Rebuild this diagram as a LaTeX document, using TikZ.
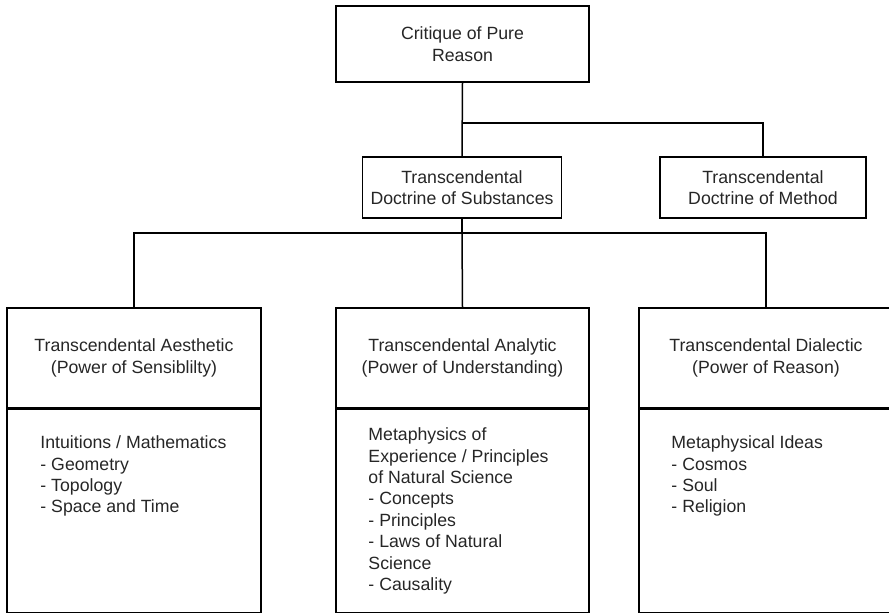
\documentclass[tikz,border=0pt]{standalone}
\usepackage{fontspec}
\setmainfont{Liberation Sans}
\usetikzlibrary{positioning,calc}
\begin{document}
\begin{tikzpicture}[x=1pt,y=-1pt,
  every node/.style={font=\fontsize{17.7}{21.4}\selectfont, text=black!85},
  box/.style={draw, line width=1.5pt, align=center, inner sep=0pt},
  bodytext/.style={anchor=north west, align=left, inner sep=0pt},
  link/.style={line width=1.5pt}]
  \path[use as bounding box, clip] (0,0) rectangle (889,613);

  % top level
  \node[box, minimum width=253, minimum height=76] (cpr) at (462.5,44) {Critique of Pure\\Reason};

  % second level
  \node[box, minimum width=199, minimum height=61] (tds) at (462,187.5) {Transcendental\\Doctrine of Substances};
  \node[box, minimum width=206, minimum height=61] (tdm) at (763,187.5) {Transcendental\\Doctrine of Method};

  % third level: header and body of each part
  \node[box, minimum width=254, minimum height=100] (aeh) at (134,358) {Transcendental Aesthetic\\(Power of Sensiblilty)};
  \node[box, minimum width=254, minimum height=203, anchor=north] (aeb) at (aeh.south) {};
  \node[box, minimum width=253, minimum height=100] (anh) at (462.5,358) {Transcendental Analytic\\(Power of Understanding)};
  \node[box, minimum width=253, minimum height=203, anchor=north] (anb) at (anh.south) {};
  \node[box, minimum width=254, minimum height=100] (dih) at (766,358) {Transcendental Dialectic\\(Power of Reason)};
  \node[box, minimum width=254, minimum height=203, anchor=north] (dib) at (dih.south) {};

  % body lists
  \node[bodytext] (aet) at ($(aeb.north west)+(34,27)$) {Intuitions / Mathematics\\- Geometry\\- Topology\\- Space and Time};
  \node[bodytext] (ant) at ($(anb.north west)+(33,19)$) {Metaphysics of\\Experience / Principles\\of Natural Science\\- Concepts\\- Principles\\- Laws of Natural\\Science\\- Causality};
  \node[bodytext] (dit) at ($(dib.north west)+(33,27)$) {Metaphysical Ideas\\- Cosmos\\- Soul\\- Religion};

  % connectors
  \draw[link] (cpr.south) -- (tds.north);
  \draw[link] (cpr.south) ++(0,40) coordinate (j1) -| (tdm.north);
  \draw[link] (tds.south) -- ++(0,14) coordinate (j2);
  \draw[link] (j2) -| (aeh.north);
  \draw[link] (j2) -| (dih.north);
  \draw[link] (j2) -- (anh.north);
\end{tikzpicture}
\end{document}
